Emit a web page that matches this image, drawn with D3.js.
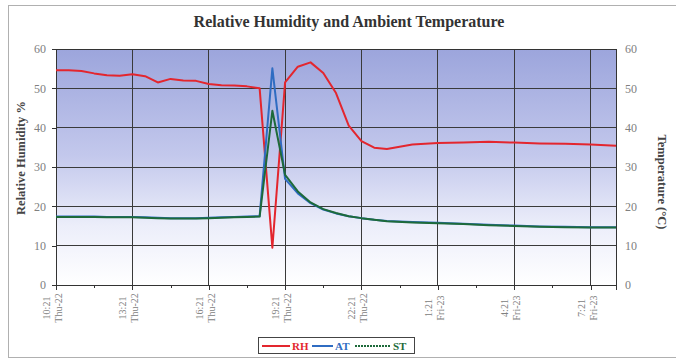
<!DOCTYPE html>
<html>
<head>
<meta charset="utf-8">
<script src="https://cdn.jsdelivr.net/npm/d3@7"></script>
<style>
  html, body { margin: 0; padding: 0; background: #ffffff; }
  svg { display: block; font-family: "Liberation Serif", "Times New Roman", serif; }
</style>
</head>
<body>
<svg id="chart" width="676" height="360"></svg>
<script>
// ---- data (hours after 10:21 Thu-22) ----
const hours = [0, 0.5, 1, 1.5, 2, 2.5, 3, 3.5, 4, 4.5, 5, 5.5, 6, 6.5, 7, 7.5, 8, 8.5, 9, 9.5, 10, 10.5, 11, 11.5, 12, 12.5, 13, 14, 15, 16, 17, 18, 19, 20, 21, 22];
const rhValues = [54.6, 54.6, 54.4, 53.8, 53.3, 53.2, 53.6, 53.1, 51.5, 52.4, 52.0, 51.9, 51.1, 50.8, 50.7, 50.5, 50.0, 9.5, 51.5, 55.5, 56.6, 53.9, 48.8, 40.5, 36.6, 34.9, 34.6, 35.7, 36.1, 36.2, 36.4, 36.2, 36.0, 35.9, 35.7, 35.4];
const atValues = [17.4, 17.4, 17.4, 17.4, 17.3, 17.3, 17.3, 17.2, 17.1, 17.0, 17.0, 17.0, 17.1, 17.2, 17.3, 17.4, 17.5, 55.1, 27.0, 23.3, 20.8, 19.2, 18.2, 17.5, 17.0, 16.6, 16.3, 16.0, 15.8, 15.6, 15.3, 15.1, 14.9, 14.8, 14.7, 14.7];
const stValues = [17.3, 17.3, 17.3, 17.3, 17.2, 17.2, 17.2, 17.1, 17.0, 16.9, 16.9, 16.9, 17.0, 17.1, 17.2, 17.3, 17.4, 44.3, 28.0, 23.8, 21.0, 19.3, 18.3, 17.5, 17.0, 16.6, 16.2, 15.9, 15.7, 15.5, 15.2, 15.0, 14.8, 14.7, 14.6, 14.6];
const majorTickHours = [0, 3, 6, 9, 12, 15, 18, 21];
const minorTickHours = [1.5, 4.5, 7.5, 10.5, 13.5, 16.5, 19.5];
const tickTimes = ["10:21", "13:21", "16:21", "19:21", "22:21", "1:21", "4:21", "7:21"];
const tickDays = ["Thu-22", "Thu-22", "Thu-22", "Thu-22", "Thu-22", "Fri-23", "Fri-23", "Fri-23"];
const yTicks = [0, 10, 20, 30, 40, 50, 60];
const seriesNames = ["RH", "AT", "ST"];
const seriesColors = ["#e3262e", "#2f6cc2", "#1d6a3a"];

// ---- layout ----
const svg = d3.select("#chart");
const L = 56, R = 616, T = 49, B = 285;
const x = d3.scaleLinear().domain([0, 22]).range([L, R]);
const yL = d3.scaleLinear().domain([0, 60]).range([B, T]);
const yR = d3.scaleLinear().domain([0, 60]).range([B, T]);

// outer border
svg.append("rect").attr("x", 8.5).attr("y", 5.5).attr("width", 680).attr("height", 352)
  .attr("fill", "none").attr("stroke", "#b0b0b0").attr("stroke-width", 1);

// gradient background
const defs = svg.append("defs");
const grad = defs.append("linearGradient").attr("id", "bg").attr("x1", 0).attr("y1", 0).attr("x2", 0).attr("y2", 1);
grad.append("stop").attr("offset", "0%").attr("stop-color", "#9ca5dc");
grad.append("stop").attr("offset", "45%").attr("stop-color", "#c3c8ec");
grad.append("stop").attr("offset", "75%").attr("stop-color", "#eceefa");
grad.append("stop").attr("offset", "100%").attr("stop-color", "#ffffff");
svg.append("rect").attr("x", L).attr("y", T).attr("width", R - L).attr("height", B - T).attr("fill", "url(#bg)");

// grid
const grid = svg.append("g").attr("stroke", "#3a3a3a").attr("stroke-width", 1).attr("shape-rendering", "crispEdges");
grid.selectAll("line.h").data(yTicks.filter(d => d > 0 && d < 60)).join("line")
  .attr("x1", L).attr("x2", R).attr("y1", d => yL(d)).attr("y2", d => yL(d));
grid.selectAll("line.v").data(majorTickHours.filter(d => d > 0)).join("line")
  .attr("y1", T).attr("y2", B).attr("x1", d => x(d)).attr("x2", d => x(d));

// plot border
svg.append("rect").attr("x", L).attr("y", T).attr("width", R - L).attr("height", B - T)
  .attr("fill", "none").attr("stroke", "#333").attr("stroke-width", 1).attr("shape-rendering", "crispEdges");

// axes
const leftAxis = svg.append("g").attr("transform", `translate(${L},0)`)
  .call(d3.axisLeft(yL).tickValues(yTicks).tickSize(4).tickPadding(6).tickFormat(d3.format("d")));
const rightAxis = svg.append("g").attr("transform", `translate(${R},0)`)
  .call(d3.axisRight(yR).tickValues(yTicks).tickSize(0).tickPadding(9).tickFormat(d3.format("d")));
const bottomAxis = svg.append("g").attr("transform", `translate(0,${B})`)
  .call(d3.axisBottom(x).tickValues(majorTickHours).tickSize(5).tickFormat(""));
const minorAxis = svg.append("g").attr("transform", `translate(0,${B})`)
  .call(d3.axisBottom(x).tickValues(minorTickHours).tickSize(3).tickFormat(""));
[leftAxis, rightAxis, bottomAxis, minorAxis].forEach(g => {
  g.select(".domain").attr("stroke", "#333");
  g.selectAll(".tick line").attr("stroke", "#333").attr("shape-rendering", "crispEdges");
  g.selectAll("text").attr("fill", "#808080").attr("font-size", 12)
    .attr("font-family", "'Liberation Serif', serif");
});

// x tick labels (rotated, two lines)
const xl = svg.append("g").selectAll("g").data(majorTickHours).join("g")
  .attr("transform", d => `translate(${x(d)},308) rotate(-90)`);
xl.append("text").attr("text-anchor", "middle").attr("y", -6).attr("font-size", 10)
  .attr("fill", "#808080").text((d, i) => tickTimes[i]);
xl.append("text").attr("text-anchor", "middle").attr("y", 6).attr("font-size", 10)
  .attr("fill", "#808080").text((d, i) => tickDays[i]);

// lines
const seriesData = [rhValues, atValues, stValues];
const scales = [yL, yR, yR];
seriesData.forEach((vals, k) => {
  const line = d3.line().x((d, i) => x(hours[i])).y(d => scales[k](d));
  svg.append("path").datum(vals).attr("d", line).attr("fill", "none")
    .attr("stroke", seriesColors[k]).attr("stroke-width", 2).attr("stroke-linejoin", "round");
});

// title
svg.append("text").attr("x", 349).attr("y", 27).attr("text-anchor", "middle")
  .attr("font-size", 16).attr("font-weight", "bold").attr("fill", "#333")
  .text("Relative Humidity and Ambient Temperature");

// axis titles
svg.append("text").attr("transform", "translate(25,158) rotate(-90)").attr("text-anchor", "middle")
  .attr("font-size", 12.5).attr("font-weight", "bold").attr("fill", "#444").text("Relative Humidity %");
svg.append("text").attr("transform", "translate(658,182) rotate(90)").attr("text-anchor", "middle")
  .attr("font-size", 12.5).attr("font-weight", "bold").attr("fill", "#444").text("Temperature (°C)");

// legend
const lg = svg.append("g");
lg.append("rect").attr("x", 258.5).attr("y", 337.5).attr("width", 156).attr("height", 16)
  .attr("fill", "#fff").attr("stroke", "#444").attr("stroke-width", 1);
const legendX = [262, 312, 355];
const legendLen = [28, 21, 36];
seriesNames.forEach((name, k) => {
  lg.append("line").attr("x1", legendX[k]).attr("x2", legendX[k] + legendLen[k]).attr("y1", 346).attr("y2", 346)
    .attr("stroke", seriesColors[k]).attr("stroke-width", 2)
    .attr("stroke-dasharray", k === 2 ? "2,1" : null);
  lg.append("text").attr("x", legendX[k] + legendLen[k] + 2).attr("y", 350).attr("font-size", 11).attr("font-weight", "bold")
    .attr("fill", seriesColors[k]).text(name);
});
</script>
</body>
</html>
